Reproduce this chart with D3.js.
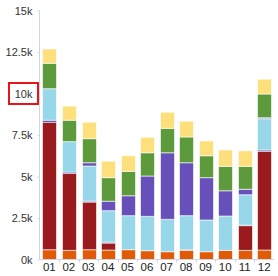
<!DOCTYPE html>
<html>
  <head>
    <title>Stacked months</title>
    <script src="https://cdn.jsdelivr.net/npm/d3@7"></script>
    <style type="text/css">

html, body {
  margin: 0;
  background: #fff;
}

svg {
  display: block;
  font: 11px "Liberation Sans", Arial, sans-serif;
}

.axis path, .axis line {
  stroke: #ccd6eb;
}

rect.seg {
  stroke: #fff;
  stroke-opacity: .6;
  stroke-width: 1;
}

    </style>
  </head>
  <body>
    <script type="text/javascript">

var months = ["01", "02", "03", "04", "05", "06", "07", "08", "09", "10", "11", "12"];

// bottom to top
var orange    = [590, 550, 590, 570, 590, 530, 470, 550, 470, 550, 550, 570];
var darkRed   = [7680, 4640, 2870, 420, 0, 0, 0, 30, 0, 0, 1490, 5950];
var blue      = [120, 80, 60, 60, 0, 0, 0, 0, 0, 0, 30, 80];
var lightBlue = [1900, 1830, 2110, 1890, 2050, 2070, 1950, 2060, 1910, 2070, 1830, 1880];
var purple    = [0, 0, 200, 570, 1200, 2430, 4010, 3190, 2550, 1520, 330, 60];
var green     = [1530, 1290, 1450, 1420, 1470, 1400, 1470, 1550, 1320, 1470, 1380, 1430];
var yellow    = [860, 850, 990, 990, 940, 930, 970, 950, 890, 990, 940, 890];

var seriesNames = ["orange", "darkRed", "blue", "lightBlue", "purple", "green", "yellow"];
var seriesValues = [orange, darkRed, blue, lightBlue, purple, green, yellow];
var colors = ["#e15a06", "#9a1b1e", "#3b3bb3", "#98d6ea", "#6750b9", "#5d9a3b", "#fde07c"];

var tickValues = [0, 2500, 5000, 7500, 10000, 12500, 15000];
var tickLabels = ["0k", "2.5k", "5k", "7.5k", "10k", "12.5k", "15k"];

var width = 278, height = 276;
var plotLeft = 39.5, plotRight = 274, plotTop = 10.5, plotBottom = 259.5;

var rows = months.map(function(m, i) {
  var r = { month: m };
  seriesNames.forEach(function(s, j) { r[s] = seriesValues[j][i]; });
  return r;
});

var svg = d3.select("body")
  .append("svg")
    .attr("width", width)
    .attr("height", height);

var x = d3.scaleBand()
    .domain(months)
    .range([plotLeft, plotRight])
    .paddingInner(0.3)
    .paddingOuter(0.15);

var y = d3.scaleLinear()
    .domain([0, 15000])
    .range([plotBottom, plotTop]);

var stack = d3.stack().keys(seriesNames)(rows);

svg.append("g")
  .selectAll("g")
    .data(stack)
  .enter().append("g")
    .attr("fill", function(d, i) { return colors[i]; })
  .selectAll("rect")
    .data(function(d) { return d.filter(function(p) { return p[1] > p[0]; }); })
  .enter().append("rect")
    .attr("class", "seg")
    .attr("x", function(d) { return Math.round(x(d.data.month)) + 0.5; })
    .attr("width", Math.round(x.bandwidth()))
    .attr("y", function(d) { return y(d[1]); })
    .attr("height", function(d) { return y(d[0]) - y(d[1]); });

// y axis
var yAxis = svg.append("g")
    .attr("class", "axis")
    .attr("transform", "translate(" + plotLeft + ",0)")
    .call(d3.axisLeft(y)
      .tickValues(tickValues)
      .tickFormat(function(d, i) { return tickLabels[i]; })
      .tickSize(2)
      .tickSizeOuter(0)
      .tickPadding(5));
yAxis.select(".domain").attr("d", "M0," + plotTop + "V" + plotBottom);
yAxis.selectAll("text").style("font-size", "11px").style("fill", "#333");

// x axis, ticks on band edges
var xAxis = svg.append("g")
    .attr("class", "axis")
    .attr("transform", "translate(0," + plotBottom + ")")
    .call(d3.axisBottom(x).tickSize(0).tickPadding(3));
xAxis.select(".domain").attr("d", "M" + plotLeft + ",0H" + plotRight);
xAxis.selectAll("text").style("font-size", "11.5px").style("fill", "#222");
xAxis.selectAll(".edge")
    .data(months.slice(1))
  .enter().append("line")
    .attr("class", "edge")
    .attr("x1", function(d) { return Math.round(x(d) - x.step() * x.paddingInner() / 2) + 0.5; })
    .attr("x2", function(d) { return Math.round(x(d) - x.step() * x.paddingInner() / 2) + 0.5; })
    .attr("y1", 0)
    .attr("y2", 3);

// red box around the 10k label
var y10 = y(10000);
svg.append("rect")
    .attr("x", 9)
    .attr("y", Math.round(y10) - 11)
    .attr("width", 29)
    .attr("height", 21)
    .attr("fill", "none")
    .attr("stroke", "#e8141a")
    .attr("stroke-width", 2);

    </script>
  </body>
</html>
